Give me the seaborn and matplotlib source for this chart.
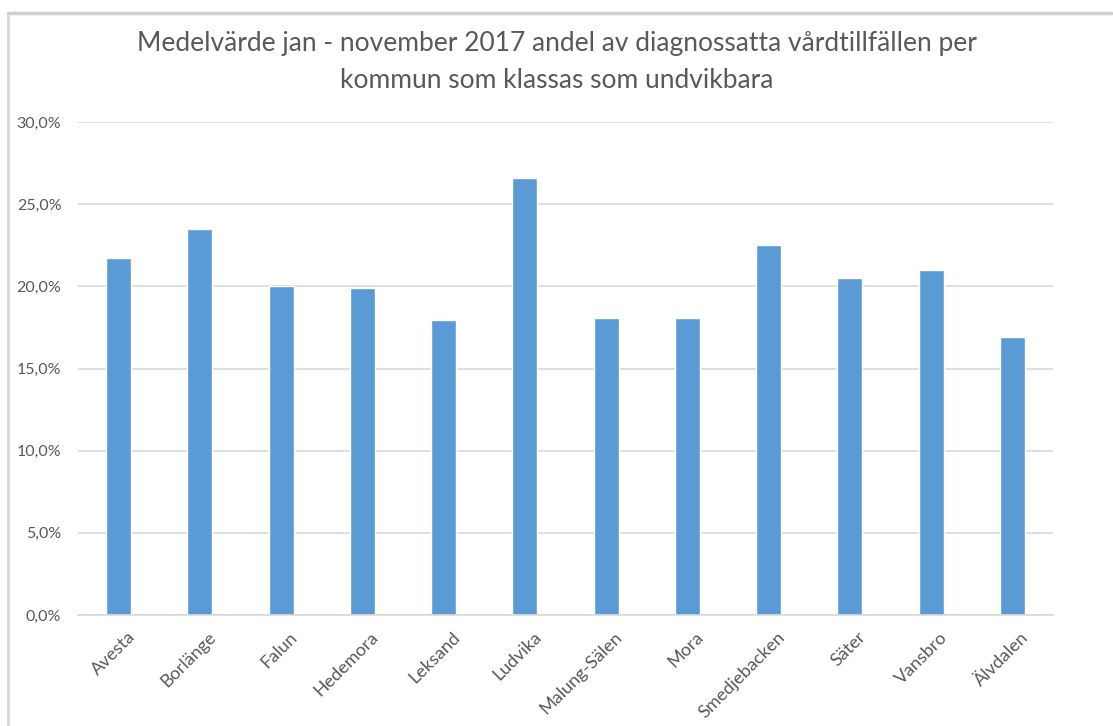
import matplotlib
matplotlib.use("Agg")
import matplotlib.pyplot as plt
import matplotlib.transforms as mtransforms
import seaborn as sns
import pandas as pd
from matplotlib.lines import Line2D
from matplotlib.ticker import FuncFormatter

kommuner = ["Avesta", "Borlänge", "Falun", "Hedemora", "Leksand", "Ludvika",
            "Malung-Sälen", "Mora", "Smedjebacken", "Säter", "Vansbro", "Älvdalen"]
andel = [21.7, 23.5, 20.0, 19.9, 17.95, 26.6, 18.1, 18.1, 22.5, 20.5, 21.0, 16.9]

df = pd.DataFrame({"kommun": kommuner, "andel": andel})

sns.set_style("white")
plt.rcParams["font.family"] = ["Lato", "DejaVu Sans"]

fig = plt.figure(figsize=(11.13, 7.26), dpi=100)
ax = fig.add_axes([78 / 1113, 111 / 726, 975 / 1113, 493 / 726])

sns.barplot(data=df, x="kommun", y="andel", color="#5b9bd5", width=0.31,
            saturation=1, ax=ax)

ax.set_ylim(0, 30)
ax.set_yticks([0, 5, 10, 15, 20, 25, 30])
ax.yaxis.set_major_formatter(FuncFormatter(lambda v, p: f"{v:.1f}%".replace(".", ",")))
ax.grid(axis="y", color="#d9d9d9", linewidth=1.2)
ax.set_axisbelow(True)
for side in ["top", "right", "left"]:
    ax.spines[side].set_visible(False)
ax.spines["bottom"].set_color("#d9d9d9")
ax.spines["bottom"].set_linewidth(1.2)
ax.tick_params(axis="both", length=0, colors="#595959")
ax.tick_params(axis="y", pad=12, labelsize=11.5)
ax.tick_params(axis="x", pad=10, labelsize=13)
ax.set_xlabel("")
ax.set_ylabel("")
ax.set_xlim(-0.5, len(kommuner) - 0.5)

# rotated labels, ending just right of each bar centre
shift = mtransforms.ScaledTranslation(8 / 100, 0, fig.dpi_scale_trans)
for lab in ax.get_xticklabels():
    lab.set_rotation(45)
    lab.set_ha("right")
    lab.set_rotation_mode("anchor")
    lab.set_transform(lab.get_transform() + shift)

fig.text(0.5, 1 - 62 / 726, "Medelvärde jan - november 2017 andel av diagnossatta vårdtillfällen per\n"
         "kommun som klassas som undvikbara", ha="center", va="center",
         fontsize=19, color="#595959", linespacing=1.55)

# chart area frame (only left and top edges fall inside the image)
fx, fy = 8 / 1113, 1 - 13 / 726
fig.add_artist(Line2D([fx, fx], [0, fy], transform=fig.transFigure,
                      color="#d9d9d9", linewidth=2))
fig.add_artist(Line2D([fx, 0.999], [fy, fy], transform=fig.transFigure,
                      color="#d0d0d0", linewidth=2.5))

fig.savefig("out.png", dpi=100)
